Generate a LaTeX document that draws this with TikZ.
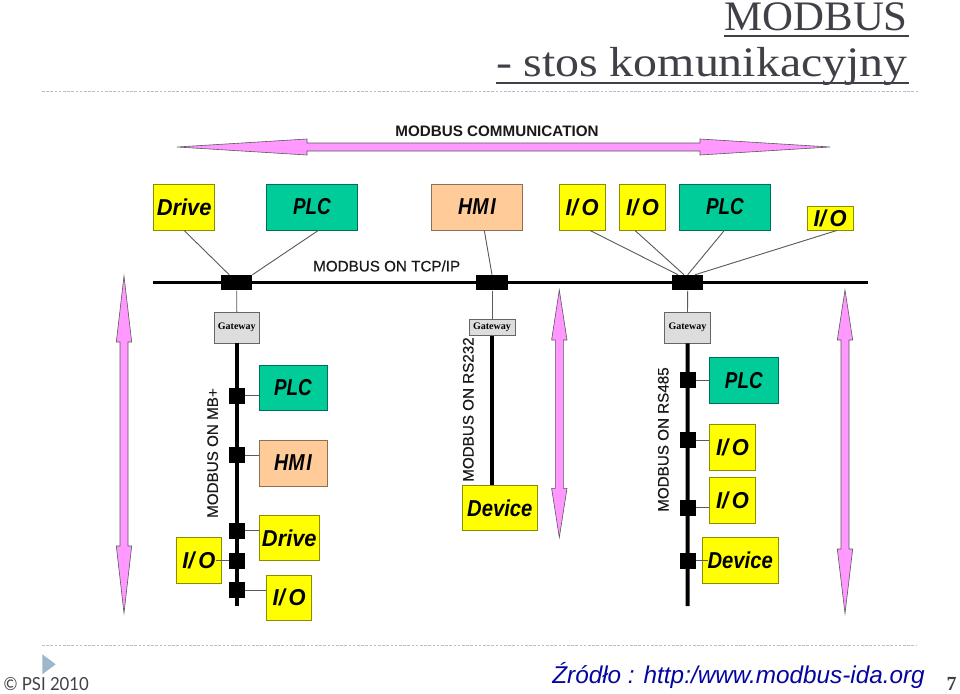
\documentclass[tikz,border=0pt]{standalone}
\usepackage{fontspec}
\setmainfont{Liberation Sans}
\newfontfamily\titlefontA[FakeStretch=1.02]{Liberation Serif}
\newfontfamily\titlefontB[FakeStretch=1.14]{Liberation Serif}
\newfontfamily\gwfont{Liberation Serif}
\newfontfamily\psifont{Lato}
\newfontfamily\medfont[FakeBold=0.35]{Liberation Sans}
\definecolor{pinkfill}{HTML}{FF99FF}
\definecolor{yel}{HTML}{FFFF00}
\definecolor{grn}{HTML}{00CC99}
\definecolor{org}{HTML}{FFCC99}
\definecolor{gwy}{HTML}{DDDDDD}
\definecolor{ttl}{HTML}{404048}
\definecolor{dots}{HTML}{B4C0C6}
\definecolor{tri}{HTML}{9DB8CC}
\definecolor{srcblue}{HTML}{0505A0}
\newcommand{\lPLC}{\scalebox{.82}[1]{PLC}}
\newcommand{\lHMI}{\scalebox{.85}[1]{HM\kern2pt I}}
\newcommand{\lIO}{\scalebox{.95}[1]{I/\kern4pt O}}
\newcommand{\lDev}{\scalebox{.88}[1]{Device}}
\newcommand{\lDrive}{\scalebox{.95}[1]{Drive}}
\newcommand{\hdblarrow}[6]{% x1 x2 y headlen halfhead halfshaft
  \path[pinkarrow] (#1,#3) -- (#1+#4,#3-#5) -- (#1+#4,#3-#6) -- (#2-#4,#3-#6) -- (#2-#4,#3-#5) -- (#2,#3)
    -- (#2-#4,#3+#5) -- (#2-#4,#3+#6) -- (#1+#4,#3+#6) -- (#1+#4,#3+#5) -- cycle;}
\newcommand{\vdblarrow}[5]{% x ytop basetop basebot ybot
  \path[pinkarrow] (#1,#2) -- (#1+7.7,#3) -- (#1+4,#3) -- (#1+4,#4) -- (#1+7.7,#4) -- (#1,#5)
    -- (#1-7.7,#4) -- (#1-4,#4) -- (#1-4,#3) -- (#1-7.7,#3) -- cycle;}
\tikzset{
  x=1pt,y=-1pt,
  pinkarrow/.style={fill=pinkfill,draw=black!65,line width=.6pt,line join=miter},
  devbox/.style={draw=#1!55!black,fill=#1,line width=.9pt,inner sep=0pt,font=\fontsize{23}{23}\selectfont\bfseries\itshape},
  gate/.style={draw=black!60,fill=gwy,line width=.8pt,inner sep=0pt,font=\fontsize{10}{10}\selectfont\gwfont\bfseries},
  tap/.style={fill=black,inner sep=0pt,minimum width=16pt,minimum height=16pt},
  hub/.style={fill=black,inner sep=0pt,minimum width=31.5pt,minimum height=15.5pt},
  thin link/.style={draw=black!65,line width=.9pt},
  busline/.style={draw=black,line width=3pt},
  trunk/.style={draw=black,line width=4pt},
  netlabel/.style={font=\fontsize{15.2}{15.2}\selectfont\medfont,inner sep=0pt,text=black!90},
  titletext/.style={inner sep=0pt,anchor=base east,text=ttl},
  dotline/.style={draw=dots,line width=.8pt,dash pattern=on 2.6pt off 1.6pt},
}
\begin{document}
\begin{tikzpicture}
\useasboundingbox (0,0) rectangle (960,693);
\fill[white] (0,0) rectangle (960,693);

% title
\node[titletext,font=\fontsize{42}{42}\selectfont\titlefontA] (t1) at (908,31) {MODBUS};
\node[titletext,font=\fontsize{42}{42}\selectfont\titlefontB] (t2) at (908,76.7) {-\kern 11pt\relax stos komunikacyjny};
\draw[ttl,line width=2pt] (724,35.8) -- (908.5,35.8);
\draw[ttl,line width=2pt] (495.5,82.8) -- (908.5,82.8);
\path[dotline] (42,91.5) -- (918,91.5);

% arrows
\node[netlabel,font=\fontsize{15.2}{15.2}\selectfont\bfseries] (comm) at (497,131) {MODBUS COMMUNICATION};
\hdblarrow{177}{830}{147}{130}{8}{4}
\vdblarrow{124}{276}{342}{546}{613}
\vdblarrow{559.3}{290}{340}{488.3}{537.5}
\vdblarrow{845}{290}{340}{549}{613.5}

% top devices
\node[devbox=yel,minimum width=61pt,minimum height=46pt] (drive) at (184.1,207) {\lDrive};
\node[devbox=grn,minimum width=90.5pt,minimum height=46pt] (plcA) at (311.9,207) {\lPLC};
\node[devbox=org,minimum width=90.5pt,minimum height=46pt] (hmiA) at (477,207) {\lHMI};
\node[devbox=yel,minimum width=45.7pt,minimum height=46pt] (ioA) at (582.2,207) {\lIO};
\node[devbox=yel,minimum width=45.7pt,minimum height=46pt] (ioB) at (642.5,207) {\lIO};
\node[devbox=grn,minimum width=90.5pt,minimum height=46pt] (plcB) at (724.9,207) {\lPLC};
\node[devbox=yel,minimum width=45.7pt,minimum height=23.3pt] (ioC) at (830.2,218.4) {\lIO};

% bus
\coordinate (busL) at (153,282.7);
\coordinate (busR) at (868,282.7);
\draw[busline] (busL) -- (busR);
\node[hub] (h1) at (236.7,282.7) {};
\node[hub] (h2) at (492,282.7) {};
\node[hub] (h3) at (687.7,282.7) {};
\node[netlabel] (tcp) at (386.7,266) {MODBUS ON TCP/IP};

% links to the bus
\draw[thin link] (drive.south) -- ([xshift=-7.5pt]h1.north);
\draw[thin link] ([xshift=6.4pt]plcA.south) -- ([xshift=15.7pt]h1.north);
\draw[thin link] ([xshift=7.3pt]hmiA.south) -- (h2.north);
\draw[thin link] ([xshift=7.8pt]ioA.south) -- ([xshift=-9.7pt]h3.north);
\draw[thin link] ([xshift=-7.5pt]ioB.south) -- ([xshift=-3.7pt]h3.north);
\draw[thin link] ([xshift=-.6pt]plcB.south) -- (h3.north);
\draw[thin link] ([xshift=6.5pt]ioC.south) -- ([xshift=7.3pt]h3.north);

% gateways
\node[gate,minimum width=45.7pt,minimum height=30.7pt] (g1) at (236.8,327.7) {Gateway};
\node[gate,minimum width=46pt,minimum height=16pt] (g2) at (492,327.7) {Gateway};
\node[gate,minimum width=45.7pt,minimum height=30.7pt] (g3) at (687.5,327.7) {Gateway};
\draw[thin link] (h1.south) -- (g1.north);
\draw[thin link] (h2.south) -- (g2.north);
\draw[thin link] (h3.south) -- (g3.north);

% left segment
\coordinate (endL) at (236.8,606);
\draw[trunk] (g1.south) -- (endL);
\node[tap] (l1) at (236.8,395.7) {};
\node[tap] (l2) at (236.8,455.3) {};
\node[tap] (l3) at (236.8,530.7) {};
\node[tap] (l4) at (236.8,560.7) {};
\node[tap] (l5) at (236.8,590.3) {};
\node[devbox=grn,minimum width=68pt,minimum height=45pt] (plcC) at (293,388) {\lPLC};
\node[devbox=org,minimum width=68pt,minimum height=46pt] (hmiB) at (293,463) {\lHMI};
\node[devbox=yel,minimum width=60.7pt,minimum height=45.4pt] (driveB) at (289.3,538) {\lDrive};
\node[devbox=yel,minimum width=45.7pt,minimum height=45.3pt] (ioD) at (198.8,560.4) {\lIO};
\node[devbox=yel,minimum width=45pt,minimum height=45pt] (ioE) at (289.2,597.8) {\lIO};
\draw[thin link] (l1.east) -- (l1.east -| plcC.west);
\draw[thin link] (l2.east) -- (l2.east -| hmiB.west);
\draw[thin link] (l3.east) -- (l3.east -| driveB.west);
\draw[thin link] (l4.west) -- ++(-13,0);
\draw[thin link] (l5.east) -- (l5.east -| ioE.west);
\node[netlabel,rotate=90] (mbp) at (212.7,453) {MODBUS ON MB+};

% middle segment
\node[devbox=yel,minimum width=75.7pt,minimum height=45.4pt] (devA) at (499.8,508) {\lDev};
\draw[trunk] (g2.south) -- (g2.south |- devA.north);
\node[netlabel,rotate=90] (rs232) at (468.3,409.5) {MODBUS ON RS232};

% right segment
\coordinate (endR) at (687.7,606);
\draw[trunk] (g3.south) -- (endR);
\node[tap] (r1) at (687.7,380) {};
\node[tap] (r2) at (687.7,440.3) {};
\node[tap] (r3) at (687.7,507.7) {};
\node[tap] (r4) at (687.7,560.7) {};
\node[devbox=grn,minimum width=68.3pt,minimum height=45.3pt] (plcD) at (743.8,380.4) {\lPLC};
\node[devbox=yel,minimum width=45.6pt,minimum height=45.6pt] (ioF) at (732.5,447.5) {\lIO};
\node[devbox=yel,minimum width=45.6pt,minimum height=45.3pt] (ioG) at (732.5,500.4) {\lIO};
\node[devbox=yel,minimum width=75.7pt,minimum height=45.3pt] (devB) at (740.2,560.4) {\lDev};
\draw[thin link] (r1.east) -- (r1.east -| plcD.west);
\draw[thin link] (r2.east) -- (r2.east -| ioF.west);
\draw[thin link] (r3.east) -- (r3.east -| ioG.west);
\draw[thin link] (r4.east) -- ++(12,0);
\node[netlabel,rotate=90] (rs485) at (663.3,439.5) {MODBUS ON RS485};

% footer
\path[dotline] (42,645.7) -- (916,645.7);
\fill[tri] (42.3,654.3) -- (55.7,664.3) -- (42.3,674.3) -- cycle;
\node[inner sep=0pt,anchor=base west,font=\fontsize{18}{18}\selectfont\psifont,text=ttl] (psi) at (3.5,690) {\scalebox{.93}[1]{© PSI 2010}};
\node[inner sep=0pt,anchor=base,font=\fontsize{24.3}{24.3}\selectfont\itshape,text=srcblue] (src) at (738.5,683.5) {Źródło : http:/www.modbus-ida.org};
\node[inner sep=0pt,anchor=base,font=\fontsize{20}{20}\selectfont\gwfont\bfseries,text=ttl] (pg) at (951.7,690) {7};
\end{tikzpicture}
\end{document}
